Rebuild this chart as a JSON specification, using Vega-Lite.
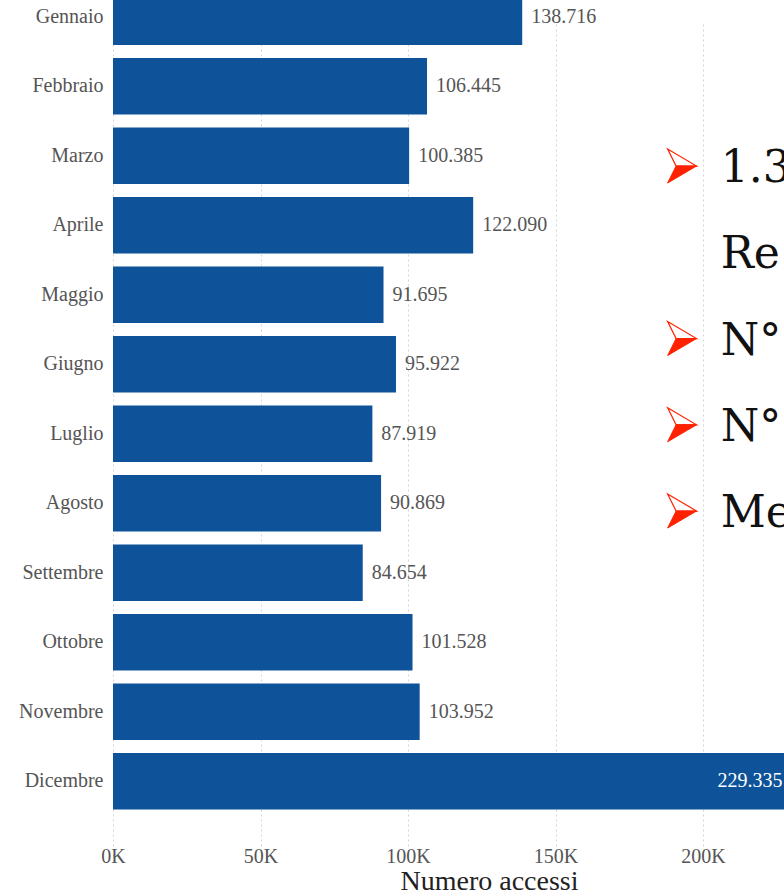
{
  "$schema": "https://vega.github.io/schema/vega-lite/v6.json",
  "autosize": {"type": "none"},
  "padding": {"left": 113, "top": 0, "right": 0, "bottom": 58},
  "width": 671,
  "height": 838,
  "background": "white",
  "config": {
    "view": {"stroke": null},
    "locale": {"number": {"decimal": ",", "thousands": ".", "grouping": [3], "currency": ["€", ""]}},
    "font": "Liberation Serif"
  },
  "datasets": {
    "mesi": [
      {"mese": "Gennaio", "accessi": 138716},
      {"mese": "Febbraio", "accessi": 106445},
      {"mese": "Marzo", "accessi": 100385},
      {"mese": "Aprile", "accessi": 122090},
      {"mese": "Maggio", "accessi": 91695},
      {"mese": "Giugno", "accessi": 95922},
      {"mese": "Luglio", "accessi": 87919},
      {"mese": "Agosto", "accessi": 90869},
      {"mese": "Settembre", "accessi": 84654},
      {"mese": "Ottobre", "accessi": 101528},
      {"mese": "Novembre", "accessi": 103952},
      {"mese": "Dicembre", "accessi": 229335}
    ],
    "punti": [
      {"riga": 1, "testo": "1.3", "accessi": 206000, "freccia": 192900, "bullet": true},
      {"riga": 2, "testo": "Re", "accessi": 206000, "freccia": 192900, "bullet": false},
      {"riga": 3, "testo": "N°", "accessi": 206000, "freccia": 192900, "bullet": true},
      {"riga": 4, "testo": "N°", "accessi": 206000, "freccia": 192900, "bullet": true},
      {"riga": 5, "testo": "Me", "accessi": 206000, "freccia": 192900, "bullet": true}
    ]
  },
  "resolve": {"scale": {"y": "independent"}},
  "layer": [
    {
      "data": {"name": "mesi"},
      "encoding": {
        "y": {
          "field": "mese",
          "type": "nominal",
          "sort": null,
          "scale": {"range": [-18, 816], "paddingInner": 0.19, "paddingOuter": 0.095},
          "axis": {
            "title": null,
            "domain": false,
            "ticks": false,
            "labelPadding": 10,
            "labelFont": "Liberation Serif",
            "labelFontSize": 20,
            "labelColor": "#555555"
          }
        },
        "x": {
          "field": "accessi",
          "type": "quantitative",
          "scale": {"domain": [0, 227450], "nice": false, "zero": true},
          "axis": {
            "title": "Numero accessi",
            "titleFont": "Liberation Serif",
            "titleFontSize": 28,
            "titleFontWeight": "normal",
            "titleColor": "#222222",
            "titlePadding": 1,
            "titleX": 376,
            "values": [0, 50000, 100000, 150000, 200000],
            "labelExpr": "datum.value / 1000 + 'K'",
            "labelFlush": false,
            "labelFont": "Liberation Serif",
            "labelFontSize": 20,
            "labelColor": "#555555",
            "labelPadding": 8,
            "domain": false,
            "ticks": false,
            "grid": true,
            "gridColor": "#d4d4d4",
            "gridDash": [2, 3],
            "gridWidth": 1
          }
        }
      },
      "layer": [
        {"mark": {"type": "bar", "color": "#0E5299", "clip": true}},
        {
          "transform": [{"filter": "datum.accessi < 200000"}],
          "mark": {"type": "text", "align": "left", "baseline": "middle", "dx": 9, "font": "Liberation Serif", "fontSize": 20, "color": "#555555"},
          "encoding": {"text": {"field": "accessi", "type": "quantitative", "format": ",d"}}
        },
        {
          "transform": [{"filter": "datum.accessi >= 200000"}],
          "mark": {"type": "text", "align": "right", "baseline": "middle", "dx": -7, "font": "Liberation Serif", "fontSize": 20, "color": "white"},
          "encoding": {"text": {"field": "accessi", "type": "quantitative", "format": ",d"}}
        }
      ]
    },
    {
      "data": {"name": "punti"},
      "encoding": {
        "y": {
          "field": "riga",
          "type": "quantitative",
          "scale": {"domain": [-0.925, 8.791], "reverse": true, "nice": false, "zero": false},
          "axis": null
        }
      },
      "layer": [
        {
          "mark": {"type": "text", "align": "left", "baseline": "middle", "dy": 3, "font": "DejaVu Serif", "fontSize": 44, "color": "#111111", "clip": true},
          "encoding": {
            "x": {"field": "accessi", "type": "quantitative"},
            "text": {"field": "testo", "type": "nominal"}
          }
        },
        {
          "transform": [{"filter": "datum.bullet"}],
          "mark": {"type": "point", "shape": "M -0.85 -1 L 0.85 0 L -0.35 0 Z", "size": 1156, "filled": true, "fill": "white", "stroke": "#FF2200", "strokeWidth": 1.2, "opacity": 1},
          "encoding": {"x": {"field": "freccia", "type": "quantitative"}}
        },
        {
          "transform": [{"filter": "datum.bullet"}],
          "mark": {"type": "point", "shape": "M -0.35 0 L 0.85 0 L -0.85 1 Z", "size": 1156, "filled": true, "color": "#FF2200", "stroke": "#FF2200", "strokeWidth": 1, "opacity": 1},
          "encoding": {"x": {"field": "freccia", "type": "quantitative"}}
        }
      ]
    }
  ]
}
